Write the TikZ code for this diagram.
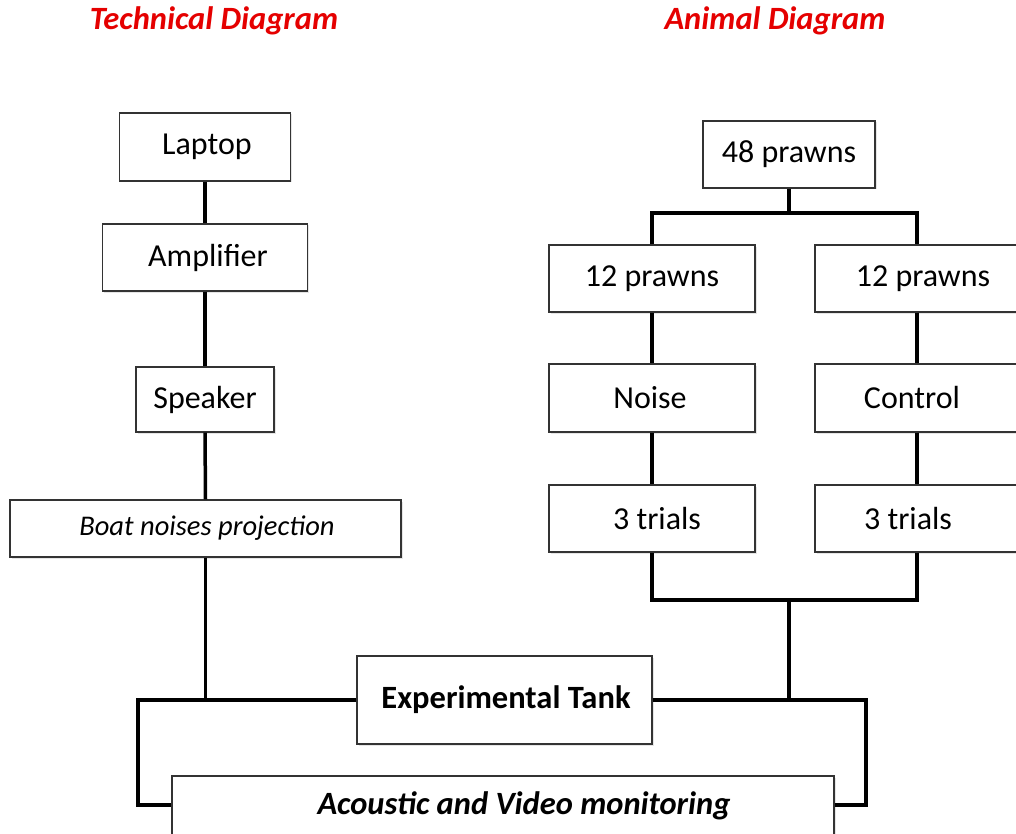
\documentclass[tikz,border=0pt]{standalone}
\usepackage{fontspec}
\setmainfont{Carlito}
\usetikzlibrary{shadows}

\begin{document}
\begin{tikzpicture}[x=1pt,y=-1pt,
  box/.style={draw=black!80, line width=1.2pt, fill=white, inner sep=0pt,
    font=\fontsize{32}{38}\selectfont,
    drop shadow={opacity=0.2, shadow xshift=1.5pt, shadow yshift=-1.5pt}},
  link/.style={line width=3.5pt, line join=miter},
  heading/.style={text=red!90!black, font=\fontsize{32.5}{38}\selectfont\bfseries\itshape}]

\useasboundingbox (0,0) rectangle (1016,834);
\clip (0,0) rectangle (1016,834);
\fill[white] (0,0) rectangle (1016,834);

% headings
\node[heading] (th) at (214,21) {Technical Diagram};
\node[heading] (ah) at (775,21) {Animal Diagram};

% technical chain
\node[box, minimum width=171pt, minimum height=68pt] (laptop) at (205,147) {\hspace*{4pt}Laptop};
\node[box, minimum width=205pt, minimum height=67pt] (amp) at (205,257.5) {\hspace*{6pt}Amplifier};
\node[box, minimum width=138pt, minimum height=65pt] (speaker) at (205,399.5) {Speaker};
\node[box, minimum width=391pt, minimum height=57pt, font=\fontsize{28.5}{34}\selectfont\itshape] (boat) at (205.5,528.5) {\hspace*{3pt}Boat noises projection};

% animal groups
\node[box, minimum width=172pt, minimum height=67pt] (p48) at (789,154.5) {48 prawns};
\node[box, minimum width=206pt, minimum height=67pt] (p12a) at (652,278.5) {12 prawns};
\node[box, minimum width=204pt, minimum height=67pt] (p12b) at (917,278.5) {\hspace*{12pt}12 prawns};
\node[box, minimum width=206pt, minimum height=68pt] (noise) at (652,398) {\hspace*{-4pt}Noise};
\node[box, minimum width=204pt, minimum height=68pt] (control) at (917,398) {\hspace*{-10pt}Control};
\node[box, minimum width=206pt, minimum height=67pt] (tra) at (652,518.5) {\hspace*{10pt}3 trials};
\node[box, minimum width=204pt, minimum height=67pt] (trb) at (917,518.5) {\hspace*{-18pt}3 trials};

% tank and monitoring
\node[box, minimum width=295pt, minimum height=88pt, font=\fontsize{32.5}{38}\selectfont\bfseries] (tank) at (504.5,700) {\hspace*{3pt}Experimental Tank};
\node[box, minimum width=662pt, minimum height=60pt, font=\fontsize{32.5}{38}\selectfont\bfseries\itshape] (mon) at (503,806) {\hspace*{42pt}Acoustic and Video monitoring};

% junction points
\coordinate (split) at (789,213);
\coordinate (merge) at (789,600);
\coordinate (lt) at (138,700);
\coordinate (rt) at (866,700);
\coordinate (lb) at (138,805);
\coordinate (rb) at (866,805);

% technical links
\draw[link] (laptop.south) -- (amp.north);
\draw[link] (amp.south) -- (speaker.north);
\draw[link] (speaker.south) -- (boat.north);
\draw[link] (boat.south) -- (boat.south |- lt);

% animal links
\draw[link] (p48.south) -- (split);
\draw[link] (p12a.north) |- (p12b.north |- split) -- (p12b.north);
\draw[link] (p12a.south) -- (noise.north);
\draw[link] (noise.south) -- (tra.north);
\draw[link] (p12b.south) -- (control.north);
\draw[link] (control.south) -- (trb.north);
\draw[link] (tra.south) |- (trb.south |- merge) -- (trb.south);
\draw[link] (merge) -- (merge |- rt);

% tank to monitoring loop
\draw[link] (tank.west) -- (lt) -- (lb) -- (mon.west |- lb);
\draw[link] (tank.east) -- (rt) -- (rb) -- (mon.east |- rb);
\end{tikzpicture}
\end{document}
